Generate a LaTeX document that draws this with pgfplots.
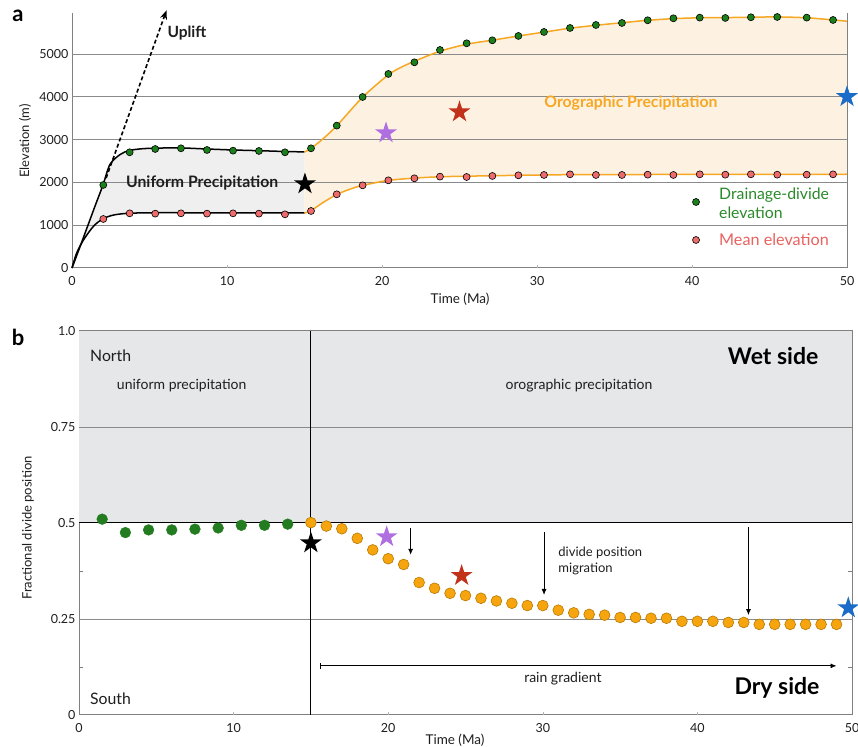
\documentclass[border=0pt]{standalone}
\usepackage{fontspec}
\setmainfont{Lato}
\usepackage{pgfplots}
\usepackage{pgfplotstable}
\pgfplotsset{compat=1.18}
\usepgfplotslibrary{fillbetween}
\usetikzlibrary{arrows.meta}

\definecolor{axgray}{HTML}{808080}
\definecolor{gridgray}{HTML}{8A8A8A}
\definecolor{dgreen}{HTML}{1B7F1B}
\definecolor{bgreen}{HTML}{237C1F}
\definecolor{salmon}{HTML}{EE6B6B}
\definecolor{orangeL}{HTML}{F6A723}
\definecolor{orangeF}{HTML}{FDF2E1}
\definecolor{grayF}{HTML}{EFEFEF}
\definecolor{grayB}{HTML}{E6E7E9}
\definecolor{orangeM}{HTML}{F7A50F}
\definecolor{orangeE}{HTML}{B87A00}
\definecolor{starpurple}{HTML}{B06FE0}
\definecolor{starred}{HTML}{C2311A}
\definecolor{starblue}{HTML}{1B6BC9}
\definecolor{legred}{HTML}{E8625F}
\definecolor{leggreen}{HTML}{2A8A2A}
\definecolor{txt}{HTML}{1E1E1E}

\pgfdeclareplotmark{fstar}{%
 \pgfpathmoveto{\pgfpointpolar{90}{\pgfplotmarksize}}%
 \pgfpathlineto{\pgfpointscale{0.382}{\pgfpointpolar{126}{\pgfplotmarksize}}}%
 \pgfpathlineto{\pgfpointpolar{162}{\pgfplotmarksize}}%
 \pgfpathlineto{\pgfpointscale{0.382}{\pgfpointpolar{198}{\pgfplotmarksize}}}%
 \pgfpathlineto{\pgfpointpolar{234}{\pgfplotmarksize}}%
 \pgfpathlineto{\pgfpointscale{0.382}{\pgfpointpolar{270}{\pgfplotmarksize}}}%
 \pgfpathlineto{\pgfpointpolar{306}{\pgfplotmarksize}}%
 \pgfpathlineto{\pgfpointscale{0.382}{\pgfpointpolar{342}{\pgfplotmarksize}}}%
 \pgfpathlineto{\pgfpointpolar{18}{\pgfplotmarksize}}%
 \pgfpathlineto{\pgfpointscale{0.382}{\pgfpointpolar{54}{\pgfplotmarksize}}}%
 \pgfpathclose
 \pgfusepathqfill}

% ---------- data (top panel) ----------
\pgfplotstableread{
x y
2.02 1940
3.72 2703
5.37 2780
7.03 2796
8.71 2757
10.39 2741
12.06 2734
13.74 2703
15.42 2796
17.08 3326
18.75 3995
20.41 4533
22.09 4805
23.74 5093
25.46 5249
27.12 5319
28.8 5421
30.45 5514
32.13 5607
33.8 5677
35.48 5724
37.14 5787
38.8 5833
40.5 5849
42.15 5841
43.8 5857
45.5 5864
47.4 5849
49.1 5794
}\dividetab

\pgfplotstableread{
x y
2.02 1145
3.72 1277
5.37 1270
7.03 1277
8.71 1270
10.39 1277
12.06 1270
13.74 1254
15.42 1332
17.08 1721
18.75 1931
20.41 2048
22.09 2095
23.74 2134
25.46 2126
27.12 2150
28.8 2165
30.45 2173
32.13 2188
33.8 2173
35.48 2173
37.14 2180
38.8 2173
40.5 2188
42.15 2180
43.8 2188
45.5 2180
47.4 2180
49.1 2188
}\meantab

% ---------- data (bottom panel) ----------
\pgfplotstableread{
x y
1.5 0.510
3 0.475
4.5 0.482
6 0.482
7.5 0.484
9 0.487
10.5 0.494
12 0.494
13.5 0.497
}\greenpos

\pgfplotstableread{
x y
15 0.501
16 0.492
17 0.485
18 0.460
19 0.430
20 0.407
21 0.392
22 0.345
23 0.330
24 0.317
25 0.311
26 0.304
27 0.297
28 0.291
29 0.285
30 0.285
31 0.273
32 0.266
33 0.262
34 0.260
35 0.254
36 0.254
37 0.252
38 0.252
39 0.244
40 0.244
41 0.244
42 0.241
43 0.241
44 0.236
45 0.236
46 0.236
47 0.236
48 0.236
49 0.236
}\orangepos

\begin{document}
\begin{tikzpicture}

% ================= panel a =================
\begin{axis}[
 at={(72bp,479bp)}, anchor=south west, scale only axis,
 width=775bp, height=254.7bp,
 xmin=0, xmax=50, ymin=0, ymax=5950,
 axis x line*=bottom, axis y line*=left,
 axis line style={axgray, line width=1bp},
 xtick={0,10,...,50}, ytick={0,1000,...,5000},
 major tick length=0pt,
 tick label style={font=\fontsize{12.5bp}{14bp}\selectfont, text=txt},
 xticklabel style={yshift=-5bp},
 /pgf/number format/assume math mode=true,
 /pgf/number format/set thousands separator={},
 clip=false,
]
% curves (paths named for fills)
\addplot[name path=A1, draw=none, smooth, forget plot] coordinates {
 (0,0) (0.5,480) (1,970) (1.5,1460) (2,1940) (2.45,2420) (3.1,2650) (3.7,2745)
 (4.5,2785) (5.4,2800) (7,2805) (8.7,2780) (10.4,2757) (12.1,2740) (13.7,2722) (15,2712)};
\addplot[name path=B1, draw=none, smooth, forget plot] coordinates {
 (0,0) (0.3,350) (0.75,660) (1.4,980) (2,1150) (2.6,1230) (3.2,1265) (3.8,1280)
 (5,1290) (8,1290) (12,1287) (15,1285)};
\addplot[name path=A2, draw=none, smooth, forget plot] coordinates {
 (15,2712) (15.4,2790) (16.2,3020) (17.1,3330) (18.75,3990) (20.4,4510) (21.3,4700)
 (22.1,4830) (23.7,5060) (25.5,5230) (27.1,5320) (28.8,5420) (30.45,5510) (32.1,5600)
 (33.8,5670) (35.5,5730) (37.1,5785) (38.8,5825) (40.5,5845) (42.2,5850) (43.8,5858)
 (45.5,5865) (47.4,5845) (49.1,5795) (50,5765)};
\addplot[name path=B2, draw=none, smooth, forget plot] coordinates {
 (15,1285) (15.4,1335) (16.2,1530) (17.1,1720) (18,1850) (18.75,1930) (20.4,2045)
 (22.1,2100) (23.7,2130) (25.5,2145) (28.8,2165) (32.1,2180) (35.5,2183) (40.5,2186)
 (45.5,2186) (50,2190)};
\addplot[grayF] fill between[of=A1 and B1];
\addplot[orangeF] fill between[of=A2 and B2];

% grid
\foreach \g in {1000,2000,3000,4000,5000} {
 \edef\tmp{\noexpand\draw[gridgray, line width=0.8bp] (axis cs:0,\g) -- (axis cs:50,\g);}\tmp
}
\foreach \t in {10,20,30,40} {
 \edef\tmp{\noexpand\draw[axgray!60, line width=0.6bp] (axis cs:\t,0) -- ++(0,3bp);}\tmp
}
\draw[axgray, line width=1bp] (rel axis cs:1,0) -- (rel axis cs:1,1);

% visible curves
\addplot[black, line width=1.5bp, smooth] coordinates {
 (0,0) (0.5,480) (1,970) (1.5,1460) (2,1940) (2.45,2420) (3.1,2650) (3.7,2745)
 (4.5,2785) (5.4,2800) (7,2805) (8.7,2780) (10.4,2757) (12.1,2740) (13.7,2722) (15,2712)};
\addplot[black, line width=1.5bp, smooth] coordinates {
 (0,0) (0.3,350) (0.75,660) (1.4,980) (2,1150) (2.6,1230) (3.2,1265) (3.8,1280)
 (5,1290) (8,1290) (12,1287) (15,1285)};
\addplot[orangeL, line width=1.5bp, smooth] coordinates {
 (15,2712) (15.4,2790) (16.2,3020) (17.1,3330) (18.75,3990) (20.4,4510) (21.3,4700)
 (22.1,4830) (23.7,5060) (25.5,5230) (27.1,5320) (28.8,5420) (30.45,5510) (32.1,5600)
 (33.8,5670) (35.5,5730) (37.1,5785) (38.8,5825) (40.5,5845) (42.2,5850) (43.8,5858)
 (45.5,5865) (47.4,5845) (49.1,5795) (50,5765)};
\addplot[orangeL, line width=1.5bp, smooth] coordinates {
 (15,1285) (15.4,1335) (16.2,1530) (17.1,1720) (18,1850) (18.75,1930) (20.4,2045)
 (22.1,2100) (23.7,2130) (25.5,2145) (28.8,2165) (32.1,2180) (35.5,2183) (40.5,2186)
 (45.5,2186) (50,2190)};

% uplift arrow
\draw[black, line width=1.6bp, dash pattern=on 4bp off 2.5bp, -{Stealth[length=9bp,width=7bp]}] (axis cs:2.2,2100) -- (axis cs:6.1,6020);
\node[anchor=west, inner sep=0pt, font=\fontsize{15.5bp}{17bp}\selectfont\bfseries, text=txt] at (axis cs:6.15,5480) {Uplift};

% points
\addplot[only marks, mark=*, mark size=3.5bp, mark options={fill=dgreen, draw=black, line width=0.6bp}] table {\dividetab};
\addplot[only marks, mark=*, mark size=3.5bp, mark options={fill=salmon, draw=black, line width=0.6bp}] table {\meantab};

% text
\node[font=\fontsize{15.8bp}{17bp}\selectfont\bfseries, text=txt] at (axis cs:8.4,1990) {Uniform Precipitation};
\node[font=\fontsize{15.8bp}{17bp}\selectfont\bfseries, text=orangeL] at (axis cs:36.06,3855) {Orographic Precipitation};

% legend
\addplot[only marks, mark=*, mark size=3.5bp, mark options={fill=dgreen, draw=black, line width=0.6bp}] coordinates {(40.26,1542)};
\addplot[only marks, mark=*, mark size=3.5bp, mark options={fill=salmon, draw=black, line width=0.6bp}] coordinates {(40.26,654)};
\node[anchor=west, inner sep=0pt, align=left, font=\fontsize{15.8bp}{19bp}\selectfont, text=leggreen] at (axis cs:41.74,1520) {Drainage-divide\\elevation};
\node[anchor=west, inner sep=0pt, font=\fontsize{16.2bp}{18bp}\selectfont, text=legred] at (axis cs:41.74,654) {Mean elevation};

% stars
\addplot[only marks, mark=fstar, mark size=11.5bp, black] coordinates {(15.03,1963)};
\addplot[only marks, mark=fstar, mark size=11.5bp, starpurple] coordinates {(20.26,3154)};
\addplot[only marks, mark=fstar, mark size=11.5bp, starred] coordinates {(25.0,3645)};
\addplot[only marks, mark=fstar, mark size=11.5bp, starblue] coordinates {(50,4000)};
\end{axis}

% ================= panel b =================
\begin{axis}[
 at={(79bp,32bp)}, anchor=south west, scale only axis,
 width=773bp, height=384bp,
 xmin=0, xmax=50, ymin=0, ymax=1,
 axis line style={axgray, line width=1bp},
 xtick={0,10,...,50}, ytick={0,0.25,0.5,0.75,1},
 yticklabels={0,0.25,0.5,0.75,1.0},
 minor ytick={0.125,0.375},
 major tick length=0pt, minor tick length=4bp,
 minor tick style={axgray, line width=0.8bp},
 tick label style={font=\fontsize{12.5bp}{14bp}\selectfont, text=txt},
 xticklabel style={yshift=-5bp},
 /pgf/number format/assume math mode=true,
 clip=false,
]
\fill[grayB] (axis cs:0,0.5) rectangle (axis cs:50,1);
\draw[gridgray, line width=0.6bp] (axis cs:0,0.75) -- (axis cs:50,0.75);
\draw[gridgray, line width=0.6bp] (axis cs:0,0.25) -- (axis cs:50,0.25);
\draw[black, line width=1bp] (axis cs:0,0.5) -- (axis cs:50,0.5);
\draw[black, line width=1bp] (axis cs:15,0) -- (axis cs:15,1);
\foreach \t in {10,20,30,40} {
 \edef\tmp{\noexpand\draw[axgray!60, line width=0.6bp] (axis cs:\t,0) -- ++(0,3bp);}\tmp
}

\addplot[only marks, mark=*, mark size=5.4bp, mark options={fill=bgreen, draw=bgreen}] table {\greenpos};
\addplot[only marks, mark=*, mark size=5.4bp, mark options={fill=orangeM, draw=orangeE, line width=0.6bp}] table {\orangepos};

\addplot[only marks, mark=fstar, mark size=11.5bp, black] coordinates {(15,0.448)};
\addplot[only marks, mark=fstar, mark size=11.5bp, starpurple] coordinates {(19.9,0.464)};
\addplot[only marks, mark=fstar, mark size=11.5bp, starred] coordinates {(24.75,0.363)};
\addplot[only marks, mark=fstar, mark size=11.5bp, starblue] coordinates {(49.76,0.279)};

% arrows
\draw[black, line width=0.9bp, -{Latex[length=6bp,width=5bp]}] (axis cs:21.45,0.486) -- (axis cs:21.45,0.417);
\draw[black, line width=0.9bp, -{Latex[length=6bp,width=5bp]}] (axis cs:30.08,0.477) -- (axis cs:30.08,0.3125);
\draw[black, line width=0.9bp, -{Latex[length=6bp,width=5bp]}] (axis cs:43.3,0.490) -- (axis cs:43.3,0.260);
\draw[black, line width=0.9bp, {Bar[width=6bp]}-{Latex[length=6bp,width=5bp]}] (axis cs:15.6,0.128) -- (axis cs:49.0,0.128);

% text
\node[anchor=west, inner sep=0pt, font=\fontsize{15.8bp}{17bp}\selectfont, text=txt] at (axis cs:0.71,0.935) {North};
\node[anchor=west, inner sep=0pt, font=\fontsize{15.8bp}{17bp}\selectfont, text=txt] at (axis cs:0.71,0.042) {South};
\node[font=\fontsize{14bp}{16bp}\selectfont, text=txt] at (axis cs:6.64,0.859) {uniform precipitation};
\node[font=\fontsize{14bp}{16bp}\selectfont, text=txt] at (axis cs:32.34,0.859) {orographic precipitation};
\node[font=\fontsize{23bp}{26bp}\selectfont\bfseries, text=black] at (axis cs:44.9,0.935) {Wet side};
\node[font=\fontsize{23bp}{26bp}\selectfont\bfseries, text=black] at (axis cs:45.15,0.070) {Dry side};
\node[anchor=west, inner sep=0pt, align=left, font=\fontsize{13bp}{15.3bp}\selectfont, text=txt] at (axis cs:31.0,0.401) {divide position\\migration};
\node[font=\fontsize{14bp}{16bp}\selectfont, text=txt] at (axis cs:31.3,0.096) {rain gradient};
\end{axis}

% axis labels and panel letters
\node[rotate=90, font=\fontsize{13bp}{15bp}\selectfont, text=txt] at (25bp,606bp) {Elevation (m)};
\node[font=\fontsize{13.5bp}{15bp}\selectfont, text=txt] at (460bp,448bp) {Time (Ma)};
\node[rotate=90, font=\fontsize{13bp}{15bp}\selectfont, text=txt] at (28bp,219bp) {Fractional divide position};
\node[font=\fontsize{13.5bp}{15bp}\selectfont, text=txt] at (455bp,7bp) {Time (Ma)};
\node[font=\fontsize{22bp}{24bp}\selectfont\bfseries] at (18bp,731bp) {a};
\node[font=\fontsize{22bp}{24bp}\selectfont\bfseries] at (18bp,410bp) {b};

\pgfresetboundingbox
\path[use as bounding box] (0,0) rectangle (858bp,747bp);
\end{tikzpicture}
\end{document}
